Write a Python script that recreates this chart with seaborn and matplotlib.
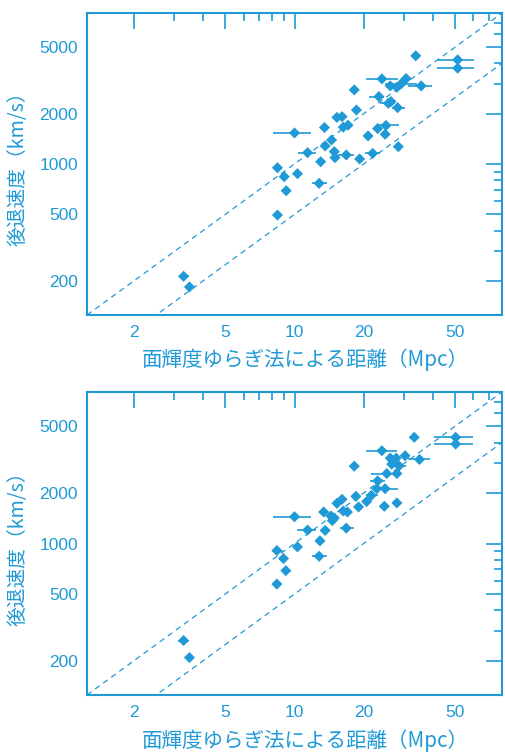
import numpy as np
import pandas as pd
import matplotlib
matplotlib.use('Agg')
import matplotlib.pyplot as plt
import seaborn as sns
from matplotlib.ticker import FixedLocator, FixedFormatter, NullFormatter

# ---------------- data ----------------
top_dist = [3.29, 3.49, 8.43, 8.43, 9.02, 9.2, 10.3, 10.0, 11.4, 13.0, 12.8, 13.5, 13.6, 14.5, 14.9,
            15.0, 15.3, 16.1, 16.3, 17.1, 16.8, 18.2, 18.6, 19.2, 20.9, 21.9, 23.0, 23.3, 24.0, 24.8,
            25.0, 25.6, 26.3, 26.1, 27.9, 28.1, 28.3, 29.1, 30.6, 33.7, 35.6, 51.3, 51.3]
top_vel = [213, 184, 495, 950, 840, 692, 875, 1534, 1169, 1032, 766, 1652, 1282, 1392, 1186,
           1091, 1900, 1919, 1660, 1706, 1132, 2774, 2104, 1072, 1472, 1158, 1629, 2531, 3229, 1506,
           1700, 2307, 2362, 2931, 2877, 2173, 1270, 3013, 3245, 4437, 2931, 4199, 3742]
top_lo = [3.16, 3.49, 8.43, 8.1, 9.02, 9.2, 10.3, 8.05, 10.4, 13.0, 11.9, 13.5, 13.6, 14.5, 14.9,
          15.0, 15.3, 16.1, 16.3, 17.1, 15.5, 18.2, 18.6, 19.2, 20.9, 20.3, 23.0, 21.0, 20.4, 24.8,
          22.8, 23.5, 26.3, 26.1, 27.9, 26.5, 28.3, 24.8, 30.6, 33.7, 31.3, 41.6, 41.6]
top_hi = [3.46, 3.49, 8.43, 8.8, 9.02, 9.2, 10.3, 11.8, 12.4, 13.0, 13.8, 13.5, 13.6, 14.5, 14.9,
          15.0, 15.3, 16.1, 16.3, 17.1, 18.1, 18.2, 18.6, 19.2, 20.9, 23.6, 23.0, 24.4, 28.3, 24.8,
          28.5, 27.5, 26.3, 26.1, 27.9, 30.3, 28.3, 34.0, 30.6, 33.7, 39.5, 60.7, 60.7]

bot_dist = [3.29, 3.49, 8.38, 8.38, 8.96, 9.17, 10.3, 10.0, 11.4, 12.9, 12.8, 13.4, 13.6, 14.4, 14.9,
            14.6, 15.3, 16.1, 16.3, 17.0, 16.8, 18.2, 18.5, 19.0, 20.6, 21.6, 23.0, 22.8, 24.0, 24.6,
            24.8, 25.2, 26.1, 26.5, 27.7, 27.9, 28.5, 27.9, 30.3, 33.2, 35.0, 50.3, 50.3]
bot_vel = [264, 209, 573, 908, 813, 689, 955, 1444, 1202, 1037, 839, 1541, 1197, 1460, 1420,
           1370, 1736, 1834, 1563, 1541, 1235, 2890, 1910, 1652, 1778, 1937, 2362, 2123, 3573, 1667,
           2123, 2612, 3229, 2972, 3229, 2612, 2904, 1745, 3334, 4295, 3170, 4295, 3917]
bot_lo = [3.12, 3.49, 8.38, 7.96, 8.96, 9.17, 10.3, 8.05, 10.3, 12.9, 11.9, 13.4, 13.6, 14.4, 14.9,
          14.6, 15.3, 16.1, 16.3, 17.0, 15.7, 18.2, 18.5, 19.0, 20.6, 20.4, 21.3, 22.8, 20.4, 24.6,
          22.8, 21.6, 26.1, 26.5, 27.7, 27.9, 26.5, 27.9, 30.3, 33.2, 31.3, 40.6, 40.6]
bot_hi = [3.46, 3.49, 8.38, 8.87, 8.96, 9.17, 10.3, 11.8, 12.4, 12.9, 13.8, 13.4, 13.6, 14.4, 14.9,
          14.6, 15.3, 16.1, 16.3, 17.0, 18.1, 18.2, 18.5, 19.0, 20.6, 23.2, 24.8, 22.8, 27.8, 24.6,
          28.3, 28.8, 26.1, 26.5, 27.7, 27.9, 30.5, 27.9, 30.3, 33.2, 38.9, 59.9, 59.9]

hubble_constants = [100, 50]           # km/s/Mpc reference lines
x_limits = [1.25, 80]
y_limits = [125, 8000]
x_major = [2, 5, 10, 20, 50]
x_major_labels = ['2', '5', '10', '20', '50']
x_minor = [3, 4, 6, 7, 8, 9, 30, 40, 60, 70]
y_major = [200, 500, 1000, 2000, 5000]
y_major_labels = ['200', '500', '1000', '2000', '5000']
y_minor = [300, 400, 600, 700, 800, 900, 3000, 4000, 6000, 7000]

xlabel_text = '面輝度ゆらぎ法による距離（Mpc）'
ylabel_text = '後退速度（km/s）'

# ---------------- style ----------------
BLUE = '#1f9ad6'
sns.set_theme(style='white')
plt.rcParams['font.family'] = ['Noto Sans CJK JP', 'DejaVu Sans']

fig = plt.figure(figsize=(5.06, 7.53), dpi=100)
ax_top = fig.add_axes([87/506, 1 - 315/753, 415/506, 302/753])
ax_bot = fig.add_axes([87/506, 1 - 695/753, 415/506, 303/753])


def draw_panel(ax, dist, vel, lo, hi):
    df = pd.DataFrame({'dist': dist, 'vel': vel, 'lo': lo, 'hi': hi})
    ax.set_xscale('log')
    ax.set_yscale('log')
    xs = np.array(x_limits)
    for H in hubble_constants:
        ax.plot(xs, H * xs, color=BLUE, lw=0.9, dashes=(4.5, 3.5), zorder=1)
    ax.errorbar(df['dist'], df['vel'],
                xerr=[df['dist'] - df['lo'], df['hi'] - df['dist']],
                fmt='none', ecolor=BLUE, elinewidth=1.2, capsize=0, zorder=2)
    sns.scatterplot(data=df, x='dist', y='vel', ax=ax, marker='D', s=32,
                    color=BLUE, edgecolor='none', linewidth=0, zorder=3, legend=False)
    ax.set_xlim(*x_limits)
    ax.set_ylim(*y_limits)

    ax.xaxis.set_major_locator(FixedLocator(x_major))
    ax.xaxis.set_major_formatter(FixedFormatter(x_major_labels))
    ax.xaxis.set_minor_locator(FixedLocator(x_minor))
    ax.xaxis.set_minor_formatter(NullFormatter())
    ax.yaxis.set_major_locator(FixedLocator(y_major))
    ax.yaxis.set_major_formatter(FixedFormatter(y_major_labels))
    ax.yaxis.set_minor_locator(FixedLocator(y_minor))
    ax.yaxis.set_minor_formatter(NullFormatter())

    ax.tick_params(which='both', direction='in', top=True, right=True,
                   color=BLUE, width=1.2, labelcolor=BLUE)
    ax.tick_params(which='major', length=11.5)
    ax.tick_params(which='minor', length=5.5)
    ax.tick_params(axis='x', which='major', pad=7)
    ax.tick_params(axis='y', which='major', pad=6.5)
    for lab in ax.get_xticklabels() + ax.get_yticklabels():
        lab.set_fontfamily('Liberation Sans')
        lab.set_fontsize(12.5)
    for sp in ax.spines.values():
        sp.set_color(BLUE)
        sp.set_linewidth(1.5)
        sp.set_visible(True)

    ax.set_xlabel(xlabel_text, fontsize=14.8, color=BLUE)
    ax.set_ylabel(ylabel_text, fontsize=14.2, color=BLUE)
    ax.xaxis.set_label_coords(0.525, -0.112)
    ax.yaxis.set_label_coords(-0.14, 0.5)
    ax.xaxis.label.set_verticalalignment('top')
    ax.grid(False)


draw_panel(ax_top, top_dist, top_vel, top_lo, top_hi)
draw_panel(ax_bot, bot_dist, bot_vel, bot_lo, bot_hi)

fig.savefig('out.png', dpi=100, facecolor='white')
